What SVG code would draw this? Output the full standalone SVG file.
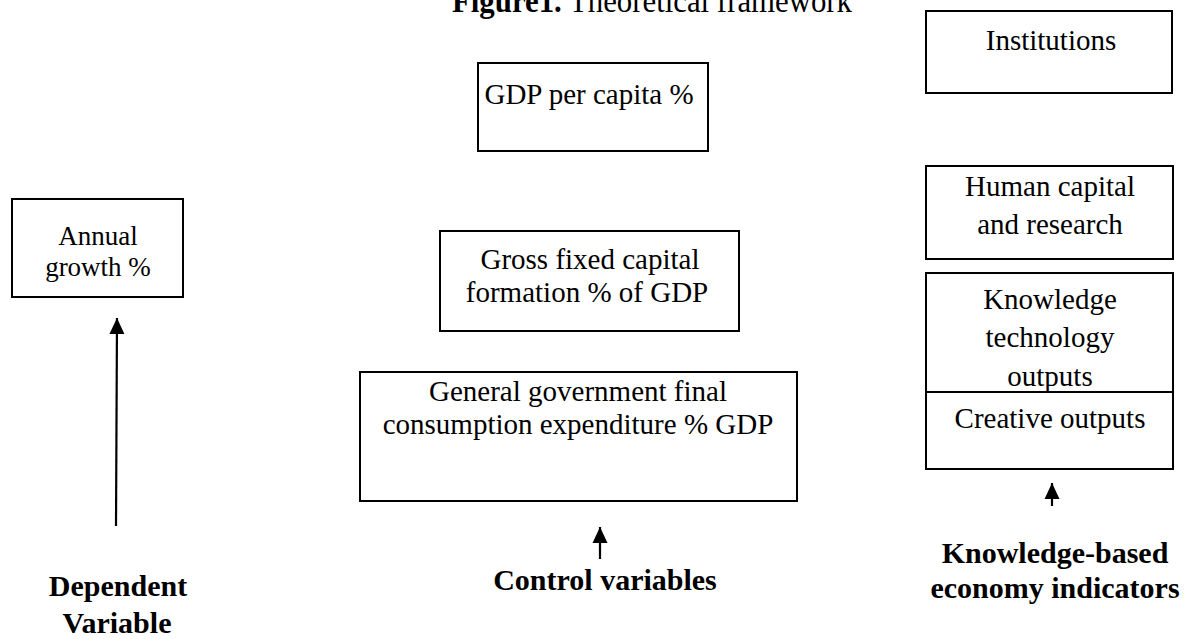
<svg xmlns="http://www.w3.org/2000/svg" width="1191" height="639" viewBox="0 0 1191 639">
  <defs>
    <style>
      .box { fill: #ffffff; stroke: #000000; stroke-width: 2; }
      .t { font-family: "Liberation Serif", "Times New Roman", serif; font-size: 29px; fill: #000000; text-anchor: middle; }
      .lbl { font-family: "Liberation Serif", "Times New Roman", serif; font-size: 30px; font-weight: bold; fill: #000000; text-anchor: middle; }
      .title { font-family: "Liberation Serif", "Times New Roman", serif; font-size: 33px; fill: #000000; }
      .conn { stroke: #000000; stroke-width: 2.2; fill: none; }
    </style>
    <marker id="arrow" viewBox="0 0 16 16" refX="16" refY="8" markerWidth="16" markerHeight="16" markerUnits="userSpaceOnUse" orient="auto">
      <path d="M0,0.5 L16,8 L0,15.5 z" fill="#000000"/>
    </marker>
  </defs>
  <rect width="1191" height="639" fill="#ffffff"/>

  <text id="title" class="title" x="452" y="12" textLength="400" lengthAdjust="spacingAndGlyphs"><tspan font-weight="bold">Figure1.</tspan> Theoretical framework</text>

  <g id="node-institutions">
    <rect class="box" x="926" y="11" width="246" height="82"/>
    <text class="t" x="1051" y="50">Institutions</text>
  </g>

  <g id="node-gdp-per-capita">
    <rect class="box" x="478" y="63" width="230" height="88"/>
    <text class="t" x="589" y="104">GDP per capita %</text>
  </g>

  <g id="node-annual-growth">
    <rect class="box" x="12" y="199" width="171" height="98"/>
    <text class="t" x="98" y="245" style="font-size:27px">Annual</text>
    <text class="t" x="98" y="276" style="font-size:27px">growth %</text>
  </g>

  <g id="node-human-capital">
    <rect class="box" x="926" y="166" width="247" height="93"/>
    <text class="t" x="1050" y="196">Human capital</text>
    <text class="t" x="1050" y="234">and research</text>
  </g>

  <g id="node-gross-fixed">
    <rect class="box" x="440" y="231" width="299" height="100"/>
    <text class="t" x="590" y="269">Gross fixed capital</text>
    <text class="t" x="587" y="302">formation % of GDP</text>
  </g>

  <g id="node-knowledge-technology">
    <rect class="box" x="926" y="273" width="247" height="150"/>
    <text class="t" x="1050" y="309">Knowledge</text>
    <text class="t" x="1050" y="347">technology</text>
    <text class="t" x="1050" y="386">outputs</text>
  </g>

  <g id="node-creative-outputs">
    <rect class="box" x="926" y="392" width="247" height="77"/>
    <text class="t" x="1050" y="428">Creative outputs</text>
  </g>

  <g id="node-general-government">
    <rect class="box" x="360" y="372" width="437" height="129"/>
    <text class="t" x="578" y="401">General government final</text>
    <text class="t" x="578" y="434">consumption expenditure % GDP</text>
  </g>

  <g id="connectors">
    <line class="conn" x1="116" y1="526" x2="117" y2="318" marker-end="url(#arrow)"/>
    <line class="conn" x1="600" y1="559" x2="600" y2="527" marker-end="url(#arrow)"/>
    <line class="conn" x1="1052" y1="506" x2="1052" y2="483" marker-end="url(#arrow)"/>
  </g>

  <g id="label-dependent">
    <text class="lbl" x="118" y="596">Dependent</text>
    <text class="lbl" x="117" y="633">Variable</text>
  </g>
  <g id="label-control">
    <text class="lbl" x="605" y="590">Control variables</text>
  </g>
  <g id="label-knowledge">
    <text class="lbl" x="1055" y="563">Knowledge-based</text>
    <text class="lbl" x="1055" y="598">economy indicators</text>
  </g>
</svg>
